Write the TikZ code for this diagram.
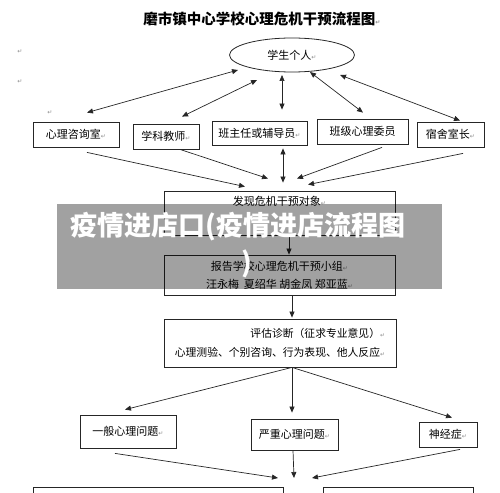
\documentclass[tikz,border=0pt]{standalone}
\usepackage{fontspec}
\setmainfont{Noto Sans CJK SC}
\newfontfamily\markfont{DejaVu Sans}
\usetikzlibrary{arrows.meta,shapes.geometric}
\definecolor{LineDark}{HTML}{262626}
\definecolor{MarkGray}{HTML}{8C8C8C}
\newcommand{\retmark}{{\markfont\fontsize{6}{6}\selectfont\color{MarkGray}↵}}

\begin{document}
\begin{tikzpicture}[x=1pt,y=-1pt,>={Triangle[length=6pt,width=5pt]},
  every node/.style={font=\fontsize{11}{18}\selectfont, align=center, inner sep=0pt},
  box/.style={draw=LineDark, line width=0.8pt, minimum height=25pt},
  link/.style={->, line width=0.7pt, LineDark},
  both/.style={<->, line width=0.7pt, LineDark}]
\useasboundingbox (0,0) rectangle (500,492);

% title and the student
\node (title) at (262,19) {\fontsize{14.5}{16}\selectfont\bfseries 磨市镇中心学校心理危机干预流程图\retmark};
\node[ellipse, draw=LineDark, line width=0.8pt, minimum width=125pt, minimum height=34pt] (stu) at (292,55) {学生个人\retmark};
\node (m1) at (20,52) {\retmark};
\node (m2) at (20,82) {\retmark};
\node (m3) at (50,113) {\retmark};

% people around the student
\node[box, minimum width=86pt] (xl) at (76,134.5) {心理咨询室\retmark};
\node[box, minimum width=66pt] (xk) at (166,136.5) {学科教师\retmark};
\node[box, minimum width=95pt, minimum height=24pt] (bzr) at (259.5,133) {班主任或辅导员\retmark};
\node[box, minimum width=91pt] (wy) at (362.5,131.5) {班级心理委员};
\node[box, minimum width=67pt] (ss) at (450.5,134.5) {宿舍室长\retmark};

\draw[both] ([shift={(11,-9)}]xl.north) -- ([shift={(-54,15)}]stu.center);
\draw[both] ([shift={(16,-7)}]xk.north) -- ([shift={(-35,25)}]stu.center);
\draw[both] ([shift={(22.5,-11)}]bzr.north) -- ([shift={(-10,20)}]stu.center);
\draw[both] ([shift={(0.5,-6)}]wy.north) -- ([shift={(18,17)}]stu.center);
\draw[both] ([shift={(9.5,-1)}]ss.north) -- ([shift={(48,20)}]stu.center);

% main flow
\node[box, minimum width=231pt, minimum height=44pt] (fx) at (279.5,213) {发现危机干预对象\retmark\\ \strut};
\node[box, minimum width=231pt, minimum height=40pt] (bg) at (279.5,275)
  {报告学校心理危机干预小组\retmark\\汪永梅\ \ 夏绍华 胡金凤 郑亚蓝\retmark};
\node[box, minimum width=232pt, minimum height=48pt, align=right, font=\fontsize{10.8}{19}\selectfont] (pg) at (280,343)
  {评估诊断（征求专业意见）\retmark\\心理测验、个别咨询、行为表现、他人反应\retmark};

\draw[link] ([shift={(11,5)}]xl.south) -- ([shift={(-34.5,-4)}]fx.north);
\draw[link] ([shift={(14,0)}]xk.south) -- ([shift={(-11.5,-12)}]fx.north);
\draw[both] ([shift={(23.5,3)}]bzr.south) -- ([shift={(3.5,-8)}]fx.north);
\draw[link] ([shift={(19.5,3)}]wy.south) -- ([shift={(17.5,-12)}]fx.north);
\draw[link] ([shift={(12.5,6)}]ss.south) -- ([shift={(28.5,-6)}]fx.north);
\draw[link] ([xshift=9.5pt]fx.south) -- ([xshift=9.5pt]bg.north);
\draw[link] ([xshift=12.5pt]bg.south) -- ([shift={(12,-1)}]pg.north);

% kinds of problem
\node[box, minimum width=96pt, minimum height=33pt] (yb) at (128,431.5) {一般心理问题\retmark};
\node[box, minimum width=87pt, minimum height=31pt] (yz) at (294.5,434.5) {严重心理问题\retmark};
\node[box, minimum width=58pt] (sj) at (448,434.5) {神经症\retmark};
\node[box, minimum width=250pt, minimum height=23pt] (bl) at (158,498.5) {};
\node[box, minimum width=150pt, minimum height=23pt] (br) at (398,498.5) {};
\coordinate (conv) at (294,478);

\draw[link] ([xshift=12pt]pg.south) -- ([shift={(-3,-5)}]yb.north);
\draw[link] ([xshift=12pt]pg.south) -- ([shift={(-2.5,-6)}]yz.north);
\draw[link] ([xshift=12pt]pg.south) -- ([shift={(4,-4)}]sj.north);
\draw[link] ([shift={(-13,5)}]yb.south) -- ([xshift=-16pt]conv);
\draw[link] ([xshift=-1.5pt]yz.south) -- (conv);
\draw[link] ([shift={(12,2)}]sj.south) -- ([xshift=18pt]conv);

% watermark band
\fill[black, fill opacity=0.37] (57,204) rectangle (442,289);
\node[anchor=west, text=white, font=\fontsize{27}{32}\selectfont\bfseries] (wm) at (70,227) {疫情进店口(疫情进店流程图};
\node[text=white, font=\fontsize{27}{32}\selectfont\bfseries] (wm2) at (247,264) {)};
\end{tikzpicture}
\end{document}
